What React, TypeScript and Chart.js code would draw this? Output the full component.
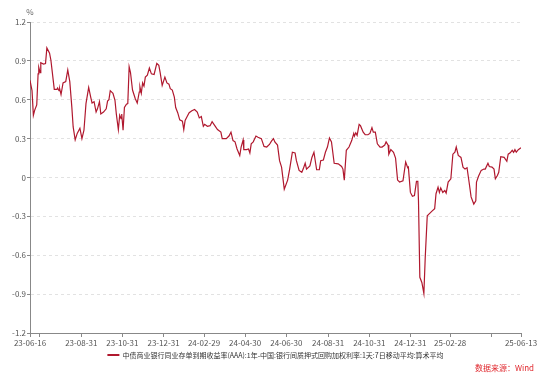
import { useEffect, useRef } from 'react';
import { Chart, registerables } from 'chart.js';

Chart.register(...registerables);

const FONT = "'Microsoft YaHei', 'Noto Sans CJK SC', 'Noto Sans', sans-serif";

const seriesName =
  '中债商业银行同业存单到期收益率(AAA):1年-中国:银行间质押式回购加权利率:1天:7日移动平均:算术平均';
const unitLabel = '%';
const sourceNote = '数据来源：Wind';
const lineColor = '#b0182e';

// days since 2023-06-16
const dayOffsets = [
  0, 3, 5, 7, 10, 12, 13, 15, 16, 20,
  23, 25, 29, 31, 36, 40, 41, 43, 44, 46,
  49, 53, 56, 59, 62, 64, 67, 70, 74, 77,
  80, 83, 87, 90, 92, 95, 98, 100, 103, 105,
  109, 113, 115, 117, 119, 123, 126, 128, 131, 133,
  135, 136, 138, 140, 143, 145, 147, 149, 152, 156,
  159, 162, 163, 165, 167, 169, 171, 174, 177, 180,
  184, 188, 191, 193, 196, 200, 203, 206, 208, 211,
  214, 216, 219, 222, 226, 228, 230, 233, 236, 240,
  244, 248, 251, 254, 257, 259, 263, 267, 270, 274,
  278, 283, 285, 291, 295, 298, 301, 304, 307, 311,
  313, 316, 317, 321, 324, 326, 328, 331, 335, 338,
  343, 347, 351, 355, 358, 361, 363, 367, 370, 373,
  377, 382, 385, 389, 393, 395, 399, 403, 405, 408,
  410, 415, 418, 421, 425, 429, 431, 435, 438, 441,
  444, 447, 451, 457, 462, 464, 466, 469, 473, 477,
  480, 481, 483, 485, 488, 490, 494, 497, 501, 504,
  507, 509, 512, 515, 519, 522, 526, 528, 531, 532,
  535, 539, 542, 545, 548, 553, 557, 560, 561, 564,
  567, 570, 573, 575, 576, 578, 581, 584, 586, 589,
  593, 596, 600, 602, 605, 607, 609, 612, 615, 617,
  620, 624, 627, 630, 632, 635, 639, 642, 645, 648,
  651, 654, 658, 661, 662, 665, 669, 673, 675, 679,
  681, 685, 688, 690, 693, 695, 698, 703, 707, 709,
  712, 715, 717, 719, 721, 724, 728,
];

const spreadValues = [
  0.75, 0.67, 0.48, 0.52, 0.56, 0.80, 0.85, 0.81, 0.885, 0.875,
  0.88, 1.00, 0.96, 0.905, 0.68, 0.68, 0.69, 0.67, 0.685, 0.64,
  0.73, 0.74, 0.83, 0.74, 0.545, 0.39, 0.29, 0.34, 0.38, 0.30,
  0.365, 0.57, 0.695, 0.62, 0.575, 0.585, 0.505, 0.53, 0.585, 0.49,
  0.505, 0.53, 0.59, 0.60, 0.67, 0.65, 0.595, 0.49, 0.37, 0.48,
  0.455, 0.49, 0.365, 0.54, 0.565, 0.57, 0.855, 0.81, 0.675, 0.61,
  0.575, 0.66, 0.70, 0.65, 0.73, 0.705, 0.775, 0.79, 0.845, 0.80,
  0.795, 0.88, 0.865, 0.81, 0.71, 0.775, 0.73, 0.72, 0.685, 0.675,
  0.62, 0.54, 0.50, 0.445, 0.435, 0.37, 0.44, 0.47, 0.50, 0.515,
  0.525, 0.505, 0.46, 0.47, 0.395, 0.41, 0.395, 0.40, 0.43, 0.40,
  0.37, 0.35, 0.30, 0.30, 0.32, 0.35, 0.285, 0.275, 0.22, 0.17,
  0.235, 0.29, 0.215, 0.215, 0.22, 0.19, 0.26, 0.275, 0.32, 0.31,
  0.30, 0.24, 0.235, 0.255, 0.28, 0.30, 0.275, 0.25, 0.13, 0.08,
  -0.09, -0.02, 0.065, 0.195, 0.19, 0.13, 0.055, 0.04, 0.065, 0.11,
  0.065, 0.09, 0.155, 0.195, 0.06, 0.06, 0.13, 0.135, 0.195, 0.235,
  0.305, 0.275, 0.11, 0.105, 0.085, 0.065, -0.02, 0.21, 0.235, 0.285,
  0.34, 0.32, 0.345, 0.325, 0.41, 0.40, 0.35, 0.33, 0.33, 0.34,
  0.385, 0.35, 0.35, 0.26, 0.235, 0.235, 0.25, 0.275, 0.25, 0.18,
  0.215, 0.195, 0.15, -0.02, -0.035, -0.025, 0.12, 0.075, 0.08, -0.115,
  -0.145, -0.14, -0.03, -0.03, -0.18, -0.77, -0.81, -0.895, -0.62, -0.295,
  -0.275, -0.26, -0.24, -0.125, -0.075, -0.115, -0.08, -0.115, -0.10, -0.12,
  -0.035, -0.01, 0.18, 0.195, 0.235, 0.17, 0.155, 0.08, 0.065, 0.075,
  -0.035, -0.15, -0.205, -0.18, -0.035, 0.01, 0.055, 0.065, 0.065, 0.11,
  0.085, 0.08, 0.065, -0.01, 0.015, 0.04, 0.16, 0.155, 0.125, 0.18,
  0.19, 0.21, 0.195, 0.215, 0.195, 0.215, 0.23,
];

// x-axis ticks (days since 2023-06-16) and their labels
const xTickDays = [0, 14, 76, 137, 198, 258, 319, 380, 442, 503, 564, 623, 684, 728];
const xTickLabels = [
  '23-06-16', '', '23-08-31', '23-10-31', '23-12-31', '24-02-29', '24-04-30',
  '24-06-30', '24-08-31', '24-10-31', '24-12-31', '25-02-28', '', '25-06-13',
];
const yTicks = [-1.2, -0.9, -0.6, -0.3, 0, 0.3, 0.6, 0.9, 1.2];

export default function App() {
  const ref = useRef<HTMLCanvasElement>(null);

  useEffect(() => {
    const canvas = ref.current;
    if (!canvas) return;

    const overlay = {
      id: 'overlay',
      afterDraw(chart: any) {
        const { ctx, chartArea } = chart;
        ctx.save();
        ctx.textBaseline = 'middle';
        // unit
        ctx.font = `8px ${FONT}`;
        ctx.fillStyle = '#666';
        ctx.textAlign = 'center';
        ctx.fillText(unitLabel, chartArea.left, 12);
        // legend
        ctx.font = `7px ${FONT}`;
        const tw = ctx.measureText(seriesName).width;
        const total = 12 + 3 + tw;
        const cx = (chartArea.left + chartArea.right) / 2;
        const sx = cx - total / 2;
        const ly = chartArea.bottom + 22;
        ctx.strokeStyle = lineColor;
        ctx.lineWidth = 2;
        ctx.beginPath();
        ctx.moveTo(sx, ly);
        ctx.lineTo(sx + 12, ly);
        ctx.stroke();
        ctx.fillStyle = '#333';
        ctx.textAlign = 'left';
        ctx.fillText(seriesName, sx + 15, ly);
        // source
        ctx.font = `8px ${FONT}`;
        ctx.fillStyle = '#e0282e';
        ctx.textAlign = 'right';
        ctx.fillText(sourceNote, 534, chartArea.bottom + 35);
        ctx.restore();
      },
    };

    const chart = new Chart(canvas, {
      type: 'line',
      data: {
        datasets: [
          {
            label: seriesName,
            data: dayOffsets.map((d, i) => ({ x: d, y: spreadValues[i] })),
            borderColor: lineColor,
            backgroundColor: lineColor,
            borderWidth: 1.2,
            pointRadius: 0,
            tension: 0,
            fill: false,
          },
        ],
      },
      options: {
        animation: false,
        responsive: false,
        devicePixelRatio: 1,
        layout: { padding: { left: 0, right: 29, top: 22, bottom: 27 } },
        plugins: { legend: { display: false }, tooltip: { enabled: false } },
        scales: {
          x: {
            type: 'linear',
            min: 0,
            max: 728,
            afterFit(s: any) {
              s.height = 20;
            },
            afterBuildTicks(s: any) {
              s.ticks = xTickDays.map((v) => ({ value: v }));
            },
            ticks: {
              autoSkip: false,
              maxRotation: 0,
              padding: 1,
              color: '#555',
              font: { size: 8, family: FONT },
              callback: (v: any) => {
                const i = xTickDays.indexOf(Number(v));
                return i >= 0 ? xTickLabels[i] : '';
              },
            },
            grid: {
              drawOnChartArea: false,
              drawTicks: true,
              tickLength: 4,
              tickColor: '#888',
              color: '#888',
            },
            border: { color: '#888', width: 1 },
          },
          y: {
            min: -1.2,
            max: 1.2,
            afterFit(s: any) {
              s.width = 30;
            },
            afterBuildTicks(s: any) {
              s.ticks = yTicks.map((v) => ({ value: v }));
            },
            ticks: {
              padding: 1,
              color: '#555',
              font: { size: 8, family: FONT },
              callback: (v: any) => String(Number(Number(v).toFixed(1))),
            },
            grid: { color: '#e2e2e2', tickColor: '#888', tickLength: 3, lineWidth: 1 },
            border: { color: '#888', width: 1, dash: [3, 3] },
          },
        },
      },
      plugins: [overlay],
    });

    return () => chart.destroy();
  }, []);

  return (
    <div style={{ position: 'absolute', left: 0, top: 0, width: 550, height: 380, background: '#fff' }}>
      <canvas ref={ref} width={550} height={380} style={{ width: 550, height: 380, display: 'block' }} />
    </div>
  );
}
